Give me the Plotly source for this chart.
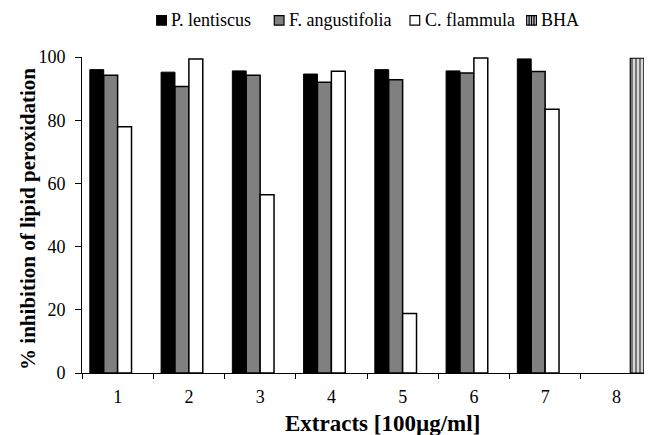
import plotly.graph_objects as go

categories = ["1", "2", "3", "4", "5", "6", "7", "8"]
series_names = ["P. lentiscus", "F. angustifolia", "C. flammula", "BHA"]
p_lentiscus = [96.0, 95.2, 95.6, 94.6, 96.0, 95.6, 99.4, None]
f_angustifolia = [94.2, 90.7, 94.2, 92.0, 92.8, 94.9, 95.4, None]
c_flammula = [77.9, 99.4, 56.4, 95.5, 18.8, 99.7, 83.5, None]
bha = [None, None, None, None, None, None, None, 99.6]
y_ticks = [0, 20, 40, 60, 80, 100]

FONT = "Liberation Serif"
fills = ["#000000", "#808080", "#ffffff", "#d8d8d8"]

fig = go.Figure()
fig.add_trace(go.Bar(x=categories, y=p_lentiscus, name=series_names[0],
                     marker=dict(color=fills[0], line=dict(color="#000000", width=1))))
fig.add_trace(go.Bar(x=categories, y=f_angustifolia, name=series_names[1],
                     marker=dict(color=fills[1], line=dict(color="#000000", width=1.5))))
fig.add_trace(go.Bar(x=categories, y=c_flammula, name=series_names[2],
                     marker=dict(color=fills[2], line=dict(color="#000000", width=1.5))))
fig.add_trace(go.Bar(x=categories, y=bha, name=series_names[3],
                     marker=dict(color="#ffffff", line=dict(color="#000000", width=1.2),
                                 pattern=dict(shape="|", fgcolor="#000000", bgcolor=fills[3],
                                              size=4, solidity=0.45, fillmode="overlay"))))

W, H = 644, 427
ML, MT, MB = 74, 48.5, 62.3
PW, PH = W - ML, H - MT - MB


def px_x(fx):
    return (fx - ML) / PW


def px_y(fy):
    return 1 + (MT - fy) / PH


# custom legend (compact key/text spacing like the original)
shapes = []
annotations = []
key_x0 = [148.7, 266.3, 402.0, 518.7]
key_size = 9.7
key_top = 7.0
for i, name in enumerate(series_names):
    x0 = key_x0[i]
    shapes.append(dict(type="rect", xref="paper", yref="paper",
                       x0=px_x(x0), x1=px_x(x0 + key_size),
                       y0=px_y(key_top + key_size), y1=px_y(key_top),
                       fillcolor=fills[i], line=dict(color="black", width=1.2)))
    if name == "BHA":
        for k in (1, 2, 3):
            xx = x0 + k * key_size / 4
            shapes.append(dict(type="line", xref="paper", yref="paper",
                               x0=px_x(xx), x1=px_x(xx),
                               y0=px_y(key_top + key_size), y1=px_y(key_top),
                               line=dict(color="black", width=1.3)))
    annotations.append(dict(text=name, xref="paper", yref="paper",
                            x=px_x(x0 + key_size + 3), y=px_y(key_top + key_size / 2 - 0.5),
                            xanchor="left", yanchor="middle", showarrow=False,
                            font=dict(family=FONT, size=18, color="black")))

annotations.append(dict(text="<b>Extracts [100µg/ml]</b>", xref="paper", yref="paper",
                        x=px_x(382 - 8), y=px_y(423 - 8),
                        xanchor="center", yanchor="middle", showarrow=False,
                        font=dict(family=FONT, size=23, color="black")))
annotations.append(dict(text="<b>% inhibition of lipid peroxidation</b>",
                        xref="paper", yref="paper", textangle=-90,
                        x=px_x(28 - 8), y=px_y(218.5 - 8),
                        xanchor="center", yanchor="middle", showarrow=False,
                        font=dict(family=FONT, size=21, color="black")))

fig.update_layout(
    width=W, height=H,
    barmode="group", bargap=0.22, bargroupgap=0,
    plot_bgcolor="white", paper_bgcolor="white",
    margin=dict(l=ML, r=0, t=MT, b=MB, autoexpand=False),
    font=dict(family=FONT, size=18, color="black"),
    showlegend=False,
    xaxis=dict(type="category", range=[-0.5, 7.5], showline=True, linecolor="black",
               linewidth=1, ticks="outside", tickson="boundaries", ticklen=5,
               tickcolor="black", showgrid=False, zeroline=False, automargin=False,
               tickfont=dict(family=FONT, size=18), ticklabelstandoff=7),
    yaxis=dict(range=[0, 100], tickvals=y_ticks, showline=True, linecolor="black",
               linewidth=1, ticks="outside", ticklen=6, tickcolor="black",
               showgrid=False, zeroline=False, automargin=False,
               tickfont=dict(family=FONT, size=18), ticklabelstandoff=6),
    shapes=shapes,
    annotations=annotations,
)

fig.write_html("out.html")
